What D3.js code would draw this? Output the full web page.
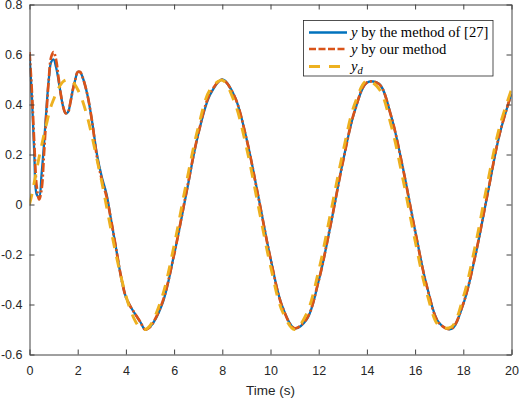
<!DOCTYPE html>
<html>
<head>
<meta charset="utf-8">
<script src="https://cdn.jsdelivr.net/npm/d3@7"></script>
<style>
  body { margin: 0; background: #fff; }
  svg { display: block; }
</style>
</head>
<body>
<script>
// time samples (s)
const time = [
  0, 0.1, 0.2, 0.3, 0.4, 0.5, 0.6, 0.7, 0.8, 0.9, 1.0, 1.1, 1.2, 1.3, 1.4, 1.5,
  1.6, 1.7, 1.8, 1.9, 2.0, 2.1, 2.2,
  2.4, 2.6, 2.8, 3.0, 3.2, 3.4, 3.6, 3.8, 4.0, 4.2, 4.4, 4.6, 4.8, 5.0,
  5.5, 6.0, 6.5, 7.0, 7.5, 8.0, 8.5, 9.0, 9.5, 10.0, 10.5, 11.0, 11.5, 12.0,
  12.5, 13.0, 13.5, 14.0, 14.5, 15.0, 15.5, 16.0, 16.5, 17.0, 17.5, 18.0,
  18.5, 19.0, 19.5, 20.0
];

// y by the method of [27]
const yRef = [
  0.60, 0.43, 0.20, 0.04, 0.03, 0.12, 0.24, 0.38, 0.50, 0.57, 0.58, 0.55, 0.50,
  0.44, 0.39, 0.365, 0.37, 0.41, 0.46, 0.50, 0.53, 0.53, 0.51,
  0.44, 0.33, 0.20, 0.11, 0.04, -0.07, -0.18, -0.29, -0.37, -0.41, -0.44,
  -0.47, -0.50, -0.49,
  -0.40, -0.20, 0.04, 0.28, 0.44, 0.50, 0.435, 0.265, 0.03, -0.215, -0.41,
  -0.495, -0.46, -0.305, -0.08, 0.17, 0.375, 0.487, 0.483, 0.356, 0.144,
  -0.104, -0.331, -0.474, -0.498, -0.398, -0.205, 0.038, 0.278, 0.443
];

// y by our method
const yOurs = [
  0.61, 0.45, 0.24, 0.07, 0.02, 0.06, 0.20, 0.36, 0.50, 0.59, 0.61, 0.58, 0.51,
  0.44, 0.39, 0.365, 0.37, 0.41, 0.46, 0.50, 0.53, 0.53, 0.51,
  0.44, 0.33, 0.19, 0.10, 0.03, -0.07, -0.18, -0.29, -0.37, -0.41, -0.44,
  -0.47, -0.50, -0.49,
  -0.395, -0.20, 0.045, 0.282, 0.445, 0.499, 0.434, 0.264, 0.028, -0.216,
  -0.412, -0.495, -0.457, -0.304, -0.078, 0.168, 0.377, 0.488, 0.482, 0.355,
  0.142, -0.106, -0.332, -0.475, -0.497, -0.396, -0.203, 0.040, 0.280, 0.445
];

// reference y_d
const yDes = [
  0.00, 0.04, 0.09, 0.14, 0.19, 0.235, 0.28, 0.32, 0.36, 0.395, 0.42, 0.445,
  0.465, 0.48, 0.492, 0.498, 0.50, 0.497, 0.49, 0.477, 0.46, 0.44, 0.415,
  0.35, 0.27, 0.18, 0.09, -0.01, -0.11, -0.205, -0.29, -0.365, -0.425, -0.468,
  -0.494, -0.50, -0.485,
  -0.37, -0.164, 0.083, 0.308, 0.46, 0.497, 0.411, 0.229, -0.009, -0.246,
  -0.429, -0.50, -0.436, -0.264, -0.031, 0.207, 0.404, 0.495, 0.463, 0.319,
  0.099, -0.145, -0.359, -0.486, -0.49, -0.37, -0.163, 0.084, 0.309, 0.46
];

const xTicks = [0, 2, 4, 6, 8, 10, 12, 14, 16, 18, 20];
const yTicks = [-0.6, -0.4, -0.2, 0, 0.2, 0.4, 0.6, 0.8];
const yTickLabels = ["-0.6", "-0.4", "-0.2", "0", "0.2", "0.4", "0.6", "0.8"];

//Width and height
const w = 519;
const h = 398;
const margin = { top: 4.5, right: 7.5, bottom: 43.5, left: 29.5 };

const svg = d3.select("body").append("svg").attr("width", w).attr("height", h);

const x = d3.scaleLinear().domain([0, 20]).range([margin.left, w - margin.right]);
const y = d3.scaleLinear().domain([-0.6, 0.8]).range([h - margin.bottom, margin.top]);

const axisColor = "#404040";
const tickFont = "'Liberation Sans', Arial, Helvetica, sans-serif";

svg.append("clipPath").attr("id", "plotClip")
  .append("rect")
  .attr("x", x(0)).attr("y", y(0.8))
  .attr("width", x(20) - x(0)).attr("height", y(-0.6) - y(0.8));

// curves
const line = (vals) => d3.line()
  .x((d, i) => x(time[i]))
  .y((d) => y(d))
  .curve(d3.curveCatmullRom.alpha(0.5))(vals);

const series = [
  { vals: yRef, color: "#0072BD", width: 2.3, dash: null },
  { vals: yOurs, color: "#D95319", width: 2.7, dash: "9,2.5,2,2.5" },
  { vals: yDes, color: "#EDB120", width: 2.9, dash: "11,9" }
];

const plot = svg.append("g").attr("clip-path", "url(#plotClip)");
series.forEach((s) => {
  plot.append("path")
    .attr("d", line(s.vals))
    .attr("fill", "none")
    .attr("stroke", s.color)
    .attr("stroke-width", s.width)
    .attr("stroke-dasharray", s.dash);
});

// axes (ticks inside, box all round)
function styleAxis(g) {
  g.select(".domain").attr("stroke", axisColor).attr("stroke-width", 1);
  g.selectAll(".tick line").attr("stroke", axisColor).attr("stroke-width", 1);
  g.selectAll(".tick text")
    .attr("fill", "#262626")
    .style("font-family", tickFont)
    .style("font-size", "12.5px");
}

svg.append("g")
  .attr("transform", `translate(0,${y(-0.6)})`)
  .call(d3.axisBottom(x).tickValues(xTicks).tickSizeInner(-5).tickSizeOuter(0).tickPadding(12).tickFormat(d3.format("d")))
  .call(styleAxis);

svg.append("g")
  .attr("transform", `translate(0,${y(0.8)})`)
  .call(d3.axisTop(x).tickValues(xTicks).tickSizeInner(-5).tickSizeOuter(0).tickFormat(""))
  .call(styleAxis);

svg.append("g")
  .attr("transform", `translate(${x(0)},0)`)
  .call(d3.axisLeft(y).tickValues(yTicks).tickSizeInner(-5).tickSizeOuter(0).tickPadding(7)
    .tickFormat((d, i) => yTickLabels[i]))
  .call(styleAxis);

svg.append("g")
  .attr("transform", `translate(${x(20)},0)`)
  .call(d3.axisRight(y).tickValues(yTicks).tickSizeInner(-5).tickSizeOuter(0).tickFormat(""))
  .call(styleAxis);

// x label
svg.append("text")
  .attr("x", (x(0) + x(20)) / 2)
  .attr("y", 395)
  .attr("text-anchor", "middle")
  .attr("fill", "#262626")
  .style("font-family", tickFont)
  .style("font-size", "13.5px")
  .text("Time (s)");

// legend
const legend = svg.append("g");
legend.append("rect")
  .attr("x", 303.5).attr("y", 20.5)
  .attr("width", 189.5).attr("height", 55.5)
  .attr("fill", "#fff")
  .attr("stroke", "#262626")
  .attr("stroke-width", 0.8);

const legendRows = [
  { main: "y", sub: null, rest: " by the method of [27]", yy: 32.5 },
  { main: "y", sub: null, rest: " by our method", yy: 49 },
  { main: "y", sub: "d", rest: "", yy: 66.5 }
];

legendRows.forEach((r, i) => {
  const s = series[i];
  legend.append("line")
    .attr("x1", 309).attr("x2", 347)
    .attr("y1", r.yy).attr("y2", r.yy)
    .attr("stroke", s.color)
    .attr("stroke-width", s.width)
    .attr("stroke-dasharray", i === 1 ? "7,2.5" : s.dash);
  const t = legend.append("text")
    .attr("x", 351)
    .attr("y", r.yy + 4.5)
    .attr("fill", "#000")
    .style("font-family", "'Liberation Serif', 'Times New Roman', serif")
    .style("font-size", "14.6px");
  t.append("tspan").style("font-style", "italic").text(r.main);
  if (r.sub) {
    t.append("tspan").style("font-style", "italic").style("font-size", "10.5px")
      .attr("dy", 3).text(r.sub);
  }
  if (r.rest) t.append("tspan").text(r.rest);
});
</script>
</body>
</html>
